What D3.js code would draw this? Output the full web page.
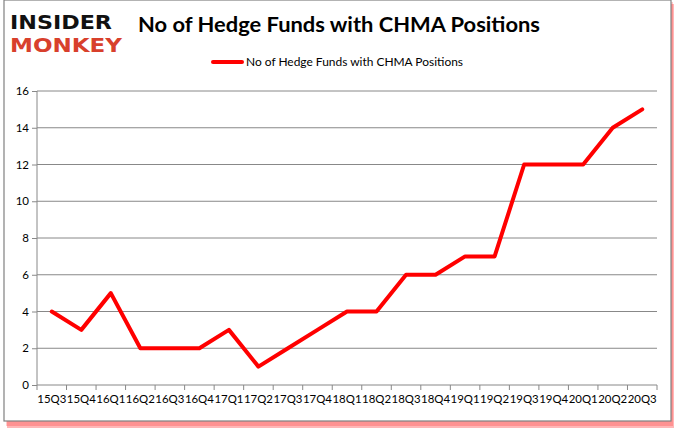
<!DOCTYPE html>
<html><head><meta charset="utf-8">
<script src="https://cdn.jsdelivr.net/npm/d3@7"></script>
<style>body{margin:0;background:#fff}svg{display:block}</style>
</head><body>
<script>
const categories = ["15Q3","15Q4","16Q1","16Q2","16Q3","16Q4","17Q1","17Q2","17Q3","17Q4","18Q1","18Q2","18Q3","18Q4","19Q1","19Q2","19Q3","19Q4","20Q1","20Q2","20Q3"];
const values = [4,3,5,2,2,2,3,1,2,3,4,4,6,6,7,7,12,12,12,14,15];
const yTicks = [0,2,4,6,8,10,12,14,16];
const seriesName = "No of Hedge Funds with CHMA Positions";
const title = "No of Hedge Funds with CHMA Positions";

const W = 677, H = 431;
const svg = d3.select("body").append("svg").attr("width", W).attr("height", H);
const font = "Lato, 'Open Sans', sans-serif";

// frame with red shadow
svg.append("rect").attr("x", 7).attr("y", 4).attr("width", 667).attr("height", 424).attr("fill", "#ff3030").attr("opacity", 0.35);
svg.append("rect").attr("x", 6).attr("y", 2).attr("width", 667).attr("height", 424).attr("fill", "#ff0000").attr("opacity", 0.2);
svg.append("rect").attr("x", 4).attr("y", 0).attr("width", 667).attr("height", 421).attr("fill", "#fff").attr("stroke", "#808080").attr("stroke-width", 1.2);

// logo
svg.append("text").attr("x", 10).attr("y", 29).text("INSIDER")
  .attr("font-family", "'DejaVu Sans', sans-serif").attr("font-weight", 900).attr("font-size", 20)
  .attr("textLength", 102).attr("lengthAdjust", "spacingAndGlyphs").attr("fill", "#111");
svg.append("text").attr("x", 10).attr("y", 52).text("MONKEY")
  .attr("font-family", "'DejaVu Sans', sans-serif").attr("font-weight", 900).attr("font-size", 19)
  .attr("textLength", 112).attr("lengthAdjust", "spacingAndGlyphs").attr("fill", "#d8402c");

// title
svg.append("text").attr("x", 339).attr("y", 32).attr("text-anchor", "middle").text(title)
  .attr("font-family", font).attr("font-weight", "bold").attr("font-size", 21)
  .attr("textLength", 402).attr("lengthAdjust", "spacingAndGlyphs").attr("fill", "#000");

// legend
svg.append("line").attr("x1", 213).attr("x2", 242).attr("y1", 62).attr("y2", 62)
  .attr("stroke", "#ff0000").attr("stroke-width", 4).attr("stroke-linecap", "round");
svg.append("text").attr("x", 246).attr("y", 66).text(seriesName)
  .attr("font-family", font).attr("font-size", 11.5)
  .attr("textLength", 217).attr("lengthAdjust", "spacingAndGlyphs").attr("fill", "#000");

// scales
const x = d3.scaleBand().domain(categories).range([37, 657]);
const y = d3.scaleLinear().domain([0, 16]).range([385, 91]);

// grid
svg.append("g").selectAll("line").data(yTicks.filter(d => d > 0)).join("line")
  .attr("x1", 37).attr("x2", 657).attr("y1", d => y(d)).attr("y2", d => y(d))
  .attr("stroke", "#888").attr("stroke-width", 1);

// y axis
const ya = svg.append("g").attr("transform", "translate(37,0)")
  .call(d3.axisLeft(y).tickValues(yTicks).tickSize(5).tickPadding(3));
ya.select(".domain").attr("stroke", "#888").attr("d", "M0,91V385");
ya.selectAll(".tick line").attr("stroke", "#888");
ya.selectAll("text").attr("font-family", font).attr("font-size", 11.5).attr("fill", "#000");

// x axis
const xa = svg.append("g").attr("transform", "translate(0,385)")
  .call(d3.axisBottom(x).tickSize(0).tickPadding(10));
xa.select(".domain").attr("stroke", "#888").attr("d", "M37,0H657");
xa.selectAll("text").attr("font-family", font).attr("font-size", 11.5).attr("fill", "#000")
  .attr("textLength", 29).attr("lengthAdjust", "spacingAndGlyphs");
// boundary ticks
const bounds = categories.map(c => x(c)).concat([x(categories[categories.length-1]) + x.bandwidth()]);
svg.append("g").selectAll("line").data(bounds).join("line")
  .attr("x1", d => d).attr("x2", d => d).attr("y1", 385).attr("y2", 390)
  .attr("stroke", "#888");

// line
const line = d3.line().x((d, i) => x(categories[i]) + x.bandwidth() / 2).y(d => y(d));
svg.append("path").datum(values).attr("d", line).attr("fill", "none")
  .attr("stroke", "#ff0000").attr("stroke-width", 4).attr("stroke-linejoin", "round").attr("stroke-linecap", "round");
</script>
</body></html>
